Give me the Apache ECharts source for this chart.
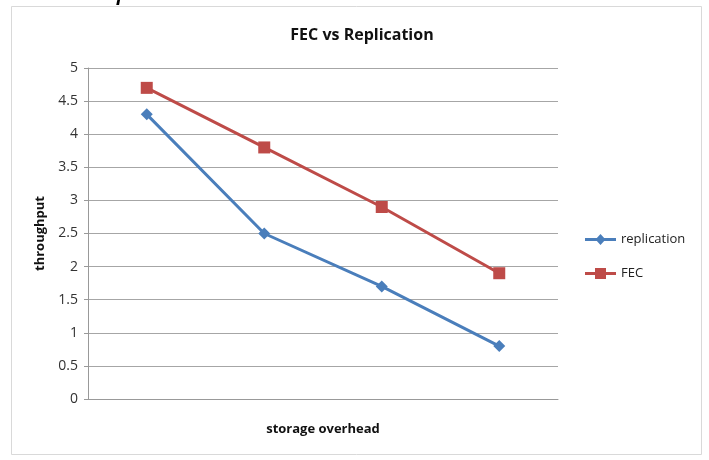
<!DOCTYPE html>
<html>
<head>
<meta charset="utf-8">
<script src="https://cdn.jsdelivr.net/npm/echarts@6/dist/echarts.min.js"></script>
<style>html,body{margin:0;padding:0;background:#fff;}#c{width:709px;height:460px;}</style>
</head>
<body>
<div id="c"></div>
<script>
var categories = ['', '', '', ''];
var replication = [4.3, 2.5, 1.7, 0.8];
var fec = [4.7, 3.8, 2.9, 1.9];
var yTicks = { min: 0, max: 5, interval: 0.5 };

var chart = echarts.init(document.getElementById('c'), null, { renderer: 'canvas' });
var font = '"Open Sans", "Noto Sans", sans-serif';
var iconDiamond = 'path://M0,4 L31,4 L31,7 L0,7 Z M15.5,0 L20.5,5.5 L15.5,11 L10.5,5.5 Z';
var iconSquare = 'path://M0,4 L31,4 L31,7 L0,7 Z M10,0 L21,0 L21,11 L10,11 Z';
chart.setOption({
  animation: false,
  backgroundColor: '#fff',
  textStyle: { fontFamily: font },
  title: {
    text: 'FEC vs Replication',
    left: 357, top: 22, textAlign: 'center',
    textStyle: { fontFamily: font, fontSize: 16, fontWeight: 'bold', color: '#111' }
  },
  graphic: [
    { type: 'rect', shape: { x: 11.5, y: 6.5, width: 690, height: 448 },
      style: { fill: 'none', stroke: '#d9d9d9', lineWidth: 1 }, z: -1 },
    { type: 'text', left: 55, top: -15,
      style: { text: 'technique.', font: 'italic bold 19px ' + font, fill: '#000' } }
  ],
  legend: {
    orient: 'vertical', left: 580, top: 228, itemGap: 21,
    itemWidth: 31, itemHeight: 11,
    textStyle: { fontFamily: font, fontSize: 13, color: '#222' },
    data: [
      { name: 'replication', icon: iconDiamond },
      { name: 'FEC', icon: iconSquare }
    ]
  },
  grid: { left: 88, right: 151, top: 68, bottom: 61, containLabel: false },
  xAxis: {
    type: 'category', data: categories, boundaryGap: true,
    name: 'storage overhead', nameLocation: 'middle', nameGap: 24,
    nameTextStyle: { fontFamily: font, fontSize: 13, fontWeight: 'bold', color: '#111' },
    axisLine: { lineStyle: { color: '#999', width: 1 } },
    axisTick: { show: false }, axisLabel: { show: false }
  },
  yAxis: {
    type: 'value', min: yTicks.min, max: yTicks.max, interval: yTicks.interval,
    name: 'throughput', nameLocation: 'middle', nameGap: 41, nameRotate: 90,
    nameTextStyle: { fontFamily: font, fontSize: 13, fontWeight: 'bold', color: '#111' },
    axisLine: { show: true, lineStyle: { color: '#999' } },
    axisTick: { show: true, length: 4, lineStyle: { color: '#999' } },
    axisLabel: { fontFamily: font, fontSize: 14, color: '#333', margin: 10,
      formatter: function (v) { return String(v); } },
    splitLine: { lineStyle: { color: '#a6a6a6', width: 1 } }
  },
  series: [
    { name: 'replication', type: 'line', data: replication,
      symbol: 'diamond', symbolSize: 12,
      itemStyle: { color: '#4A7EBB' }, lineStyle: { color: '#4A7EBB', width: 3 } },
    { name: 'FEC', type: 'line', data: fec,
      symbol: 'rect', symbolSize: 12,
      itemStyle: { color: '#BE4B48' }, lineStyle: { color: '#BE4B48', width: 3 } }
  ]
});
</script>
</body>
</html>
